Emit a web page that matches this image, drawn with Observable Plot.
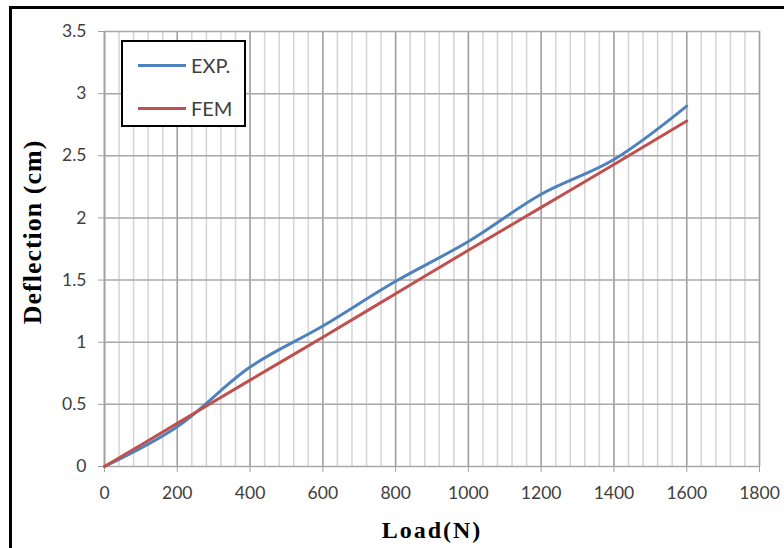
<!DOCTYPE html>
<html>
<head>
<meta charset="utf-8">
<script src="https://cdn.jsdelivr.net/npm/d3@7"></script>
<script src="https://cdn.jsdelivr.net/npm/@observablehq/plot@0.6"></script>
<style>
  html, body { margin: 0; padding: 0; background: #fff; }
  #wrap { position: relative; width: 784px; height: 548px; overflow: hidden; }
  #border { position: absolute; left: 9px; top: 6px; width: 800px; height: 600px;
            border-left: 3px solid #000; border-top: 3px solid #000; pointer-events: none; }
  #legend { position: absolute; left: 121px; top: 40px; width: 121px; height: 83px;
            border: 2px solid #000; background: #fff; font-family: Lato, "Open Sans", sans-serif;
            font-size: 20px; color: #404040; }
  .item { position: absolute; left: 15px; display: flex; align-items: center; }
  .sw { width: 48px; height: 3px; margin-right: 5px; }
</style>
</head>
<body>
<div id="wrap">
  <div id="chart"></div>
  <div id="legend">
    <div class="item" style="top:11px"><span class="sw" style="background:#4F81BD"></span><span>EXP.</span></div>
    <div class="item" style="top:54px"><span class="sw" style="background:#C0504D"></span><span>FEM</span></div>
  </div>
  <div id="border"></div>
</div>
<script>
const loads = [0, 200, 400, 600, 800, 1000, 1200, 1400, 1600];
const expDeflection = [0, 0.32, 0.80, 1.13, 1.49, 1.81, 2.19, 2.47, 2.90];
const femDeflection = [0, 0.347, 0.695, 1.04, 1.39, 1.74, 2.085, 2.43, 2.78];
const xTicks = [0, 200, 400, 600, 800, 1000, 1200, 1400, 1600, 1800];
const yTicks = [0, 0.5, 1, 1.5, 2, 2.5, 3, 3.5];
const xMinor = d3.range(0, 1801, 40);
const xTitle = "Load(N)";
const yTitle = "Deflection (cm)";

const series = [
  ...loads.map((x, i) => ({x, y: expDeflection[i], s: "EXP."})),
  ...loads.map((x, i) => ({x, y: femDeflection[i], s: "FEM"}))
];

const tickFont = "Lato, 'Open Sans', sans-serif";
const chart = Plot.plot({
  width: 784,
  height: 548,
  marginLeft: 104,
  marginRight: 25,
  marginTop: 31,
  marginBottom: 82,
  style: {background: "transparent", fontFamily: tickFont},
  x: {domain: [0, 1800]},
  y: {domain: [0, 3.5]},
  color: {domain: ["EXP.", "FEM"], range: ["#4F81BD", "#C0504D"]},
  marks: [
    Plot.ruleX(xMinor, {stroke: "#d4d4d4", strokeWidth: 1.5}),
    Plot.ruleX(xTicks, {stroke: "#a0a0a0", strokeWidth: 1.5}),
    Plot.ruleY(yTicks, {stroke: "#a8a8a8", strokeWidth: 1.5}),
    Plot.ruleX([0], {stroke: "#a0a0a0", strokeWidth: 1.5}),
    Plot.axisX({ticks: xTicks, tickSize: 6, tickPadding: 14, fontSize: 17.5, color: "#404040", stroke: "#a0a0a0", label: null, tickFormat: d => String(d)}),
    Plot.axisY({ticks: yTicks, tickSize: 6, tickPadding: 12, fontSize: 17.5, color: "#404040", stroke: "#a0a0a0", label: null, tickFormat: d => String(d)}),
    Plot.line(series, {x: "x", y: "y", z: "s", stroke: "s", strokeWidth: 3, curve: "catmull-rom"}),
    Plot.text([xTitle], {frameAnchor: "bottom", lineAnchor: "middle", textAnchor: "middle", dy: 64, fontSize: 24, fontWeight: "bold", fontFamily: "'Liberation Serif', serif", fill: "#000"}),
    Plot.text([yTitle], {frameAnchor: "left", lineAnchor: "middle", textAnchor: "middle", rotate: -90, dx: -72, dy: -17, fontSize: 26, fontWeight: "bold", fontFamily: "'Liberation Serif', serif", fill: "#000"})
  ]
});
d3.select(chart).selectAll("text").filter(function() { return this.textContent === xTitle; }).style("letter-spacing", "2px");
d3.select(chart).selectAll("text").filter(function() { return this.textContent === yTitle; }).style("letter-spacing", "1px");
document.getElementById("chart").appendChild(chart);
</script>
</body>
</html>
